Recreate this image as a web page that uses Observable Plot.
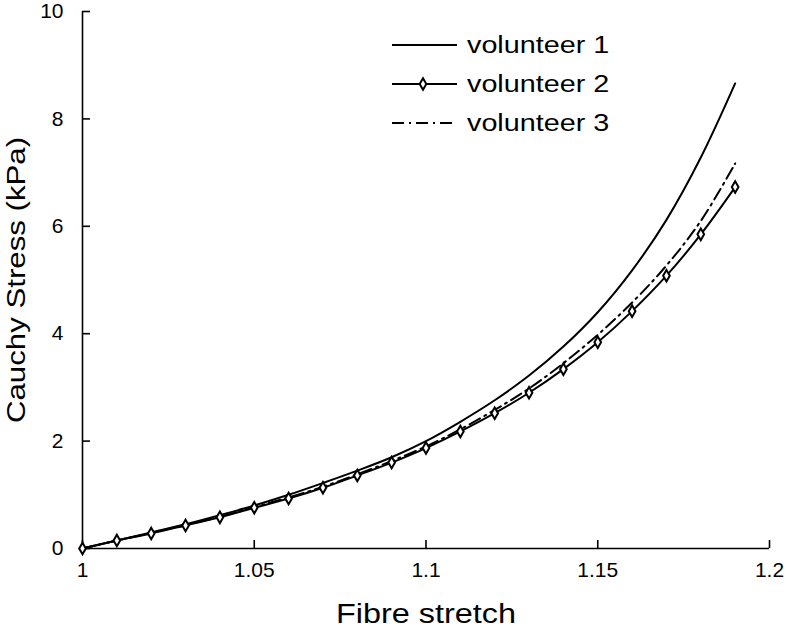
<!DOCTYPE html>
<html>
<head>
<meta charset="utf-8">
<script src="https://cdn.jsdelivr.net/npm/d3@7"></script>
<script src="https://cdn.jsdelivr.net/npm/@observablehq/plot@0.6"></script>
<style>
  html, body { margin: 0; padding: 0; background: white; }
  #wrap { position: relative; width: 787px; height: 630px; }
  #legend { position: absolute; left: 0; top: 0; pointer-events: none; }
</style>
</head>
<body>
<div id="wrap"></div>
<script>
// ---- data ----
const stretch = [1.00, 1.01, 1.02, 1.03, 1.04, 1.05, 1.06, 1.07, 1.08, 1.09,
                 1.10, 1.11, 1.12, 1.13, 1.14, 1.15, 1.16, 1.17, 1.18, 1.19];
const volunteer1 = [0, 0.15, 0.30, 0.45, 0.62, 0.80, 1.00, 1.22, 1.45, 1.70,
                    2.00, 2.36, 2.76, 3.22, 3.76, 4.40, 5.18, 6.12, 7.28, 8.66];
const volunteer2 = [0, 0.15, 0.28, 0.43, 0.58, 0.76, 0.93, 1.13, 1.36, 1.60,
                    1.87, 2.18, 2.52, 2.90, 3.34, 3.84, 4.42, 5.08, 5.85, 6.73];
const volunteer3 = [0, 0.15, 0.29, 0.44, 0.59, 0.77, 0.95, 1.15, 1.38, 1.63,
                    1.90, 2.22, 2.58, 2.98, 3.45, 3.98, 4.58, 5.27, 6.10, 7.17];
const seriesNames = ["volunteer 1", "volunteer 2", "volunteer 3"];
const xTicks = [1, 1.05, 1.1, 1.15, 1.2];
const yTicks = [0, 2, 4, 6, 8, 10];
const xLabel = "Fibre stretch";
const yLabel = "Cauchy Stress (kPa)";

const rows = (vals) => stretch.map((s, i) => ({x: s, y: vals[i]}));
const d1 = rows(volunteer1), d2 = rows(volunteer2), d3s = rows(volunteer3);
const dashDot = "12,5,2,5";
const font = "'Liberation Sans', Arial, sans-serif";

const W = 787, H = 630, mL = 82, mR = 18, mT = 11, mB = 82, tickLen = 8;
const frameW = W - mL - mR, frameH = H - mT - mB;

const chart = Plot.plot({
  width: W,
  height: H,
  marginLeft: mL,
  marginRight: mR,
  marginTop: mT,
  marginBottom: mB,
  style: {fontFamily: font, fontSize: "21px", color: "black", background: "white"},
  x: {domain: [1, 1.2]},
  y: {domain: [0, 10]},
  marks: [
    Plot.axisX({ticks: xTicks, tickSize: 0, tickPadding: 14,
                tickFormat: d => String(+d.toFixed(2)), label: null}),
    Plot.axisY({ticks: yTicks, tickSize: 0, tickPadding: 19,
                tickFormat: d => String(d), label: null}),
    // inward tick marks
    Plot.tickX(xTicks, {x: d => d, insetTop: frameH - tickLen, stroke: "black", strokeWidth: 1.6}),
    Plot.tickY(yTicks, {y: d => d, insetRight: frameW - tickLen, stroke: "black", strokeWidth: 1.6}),
    Plot.ruleY([0], {strokeWidth: 1.6}),
    Plot.ruleX([1], {strokeWidth: 1.6}),
    Plot.line(d1, {x: "x", y: "y", curve: "catmull-rom", stroke: "black", strokeWidth: 2}),
    Plot.line(d3s, {x: "x", y: "y", curve: "catmull-rom", stroke: "black", strokeWidth: 2,
                    strokeDasharray: dashDot}),
    Plot.line(d2, {x: "x", y: "y", curve: "catmull-rom", stroke: "black", strokeWidth: 2}),
    Plot.dot(d2, {x: "x", y: "y", symbol: "diamond", r: 3.5, fill: "white", stroke: "black", strokeWidth: 2}),
    Plot.text([xLabel], {frameAnchor: "bottom", dy: 74, lineAnchor: "bottom", fontSize: 27,
                         text: d => d, className: "xlab"}),
    Plot.text([yLabel], {frameAnchor: "left", dx: -66, rotate: -90, fontSize: 26,
                         textAnchor: "middle", text: d => d, className: "ylab"})
  ]
});

const wrap = document.getElementById("wrap");
wrap.appendChild(chart);

// Stretch axis titles horizontally like the reference lettering
function stretchText(sel, factor) {
  d3.select(chart).selectAll(sel).each(function() {
    const len = this.getComputedTextLength();
    this.setAttribute("textLength", len * factor);
    this.setAttribute("lengthAdjust", "spacingAndGlyphs");
  });
}
stretchText(".xlab text", 1.2);
stretchText(".ylab text", 1.2);

// Legend overlay
const legend = d3.select(wrap).append("svg")
  .attr("id", "legend").attr("width", W).attr("height", H);
const legendStyles = [
  {dash: null, marker: false},
  {dash: null, marker: true},
  {dash: dashDot, marker: false}
];
seriesNames.forEach((name, i) => {
  const y = 45 + i * 39;
  const g = legend.append("g");
  g.append("line").attr("x1", 392).attr("x2", 457).attr("y1", y).attr("y2", y)
    .attr("stroke", "black").attr("stroke-width", 2.2)
    .attr("stroke-dasharray", legendStyles[i].dash);
  if (legendStyles[i].marker) {
    g.append("path").attr("d", d3.symbol(d3.symbolDiamond, 38)())
      .attr("transform", `translate(423,${y})`)
      .attr("fill", "white").attr("stroke", "black").attr("stroke-width", 2);
  }
  const t = g.append("text").attr("x", 467).attr("y", y).attr("dy", "0.36em")
    .attr("font-family", font).attr("font-size", 23).attr("fill", "black").text(name);
  const len = t.node().getComputedTextLength();
  t.attr("textLength", len * 1.25).attr("lengthAdjust", "spacingAndGlyphs");
});
</script>
</body>
</html>
